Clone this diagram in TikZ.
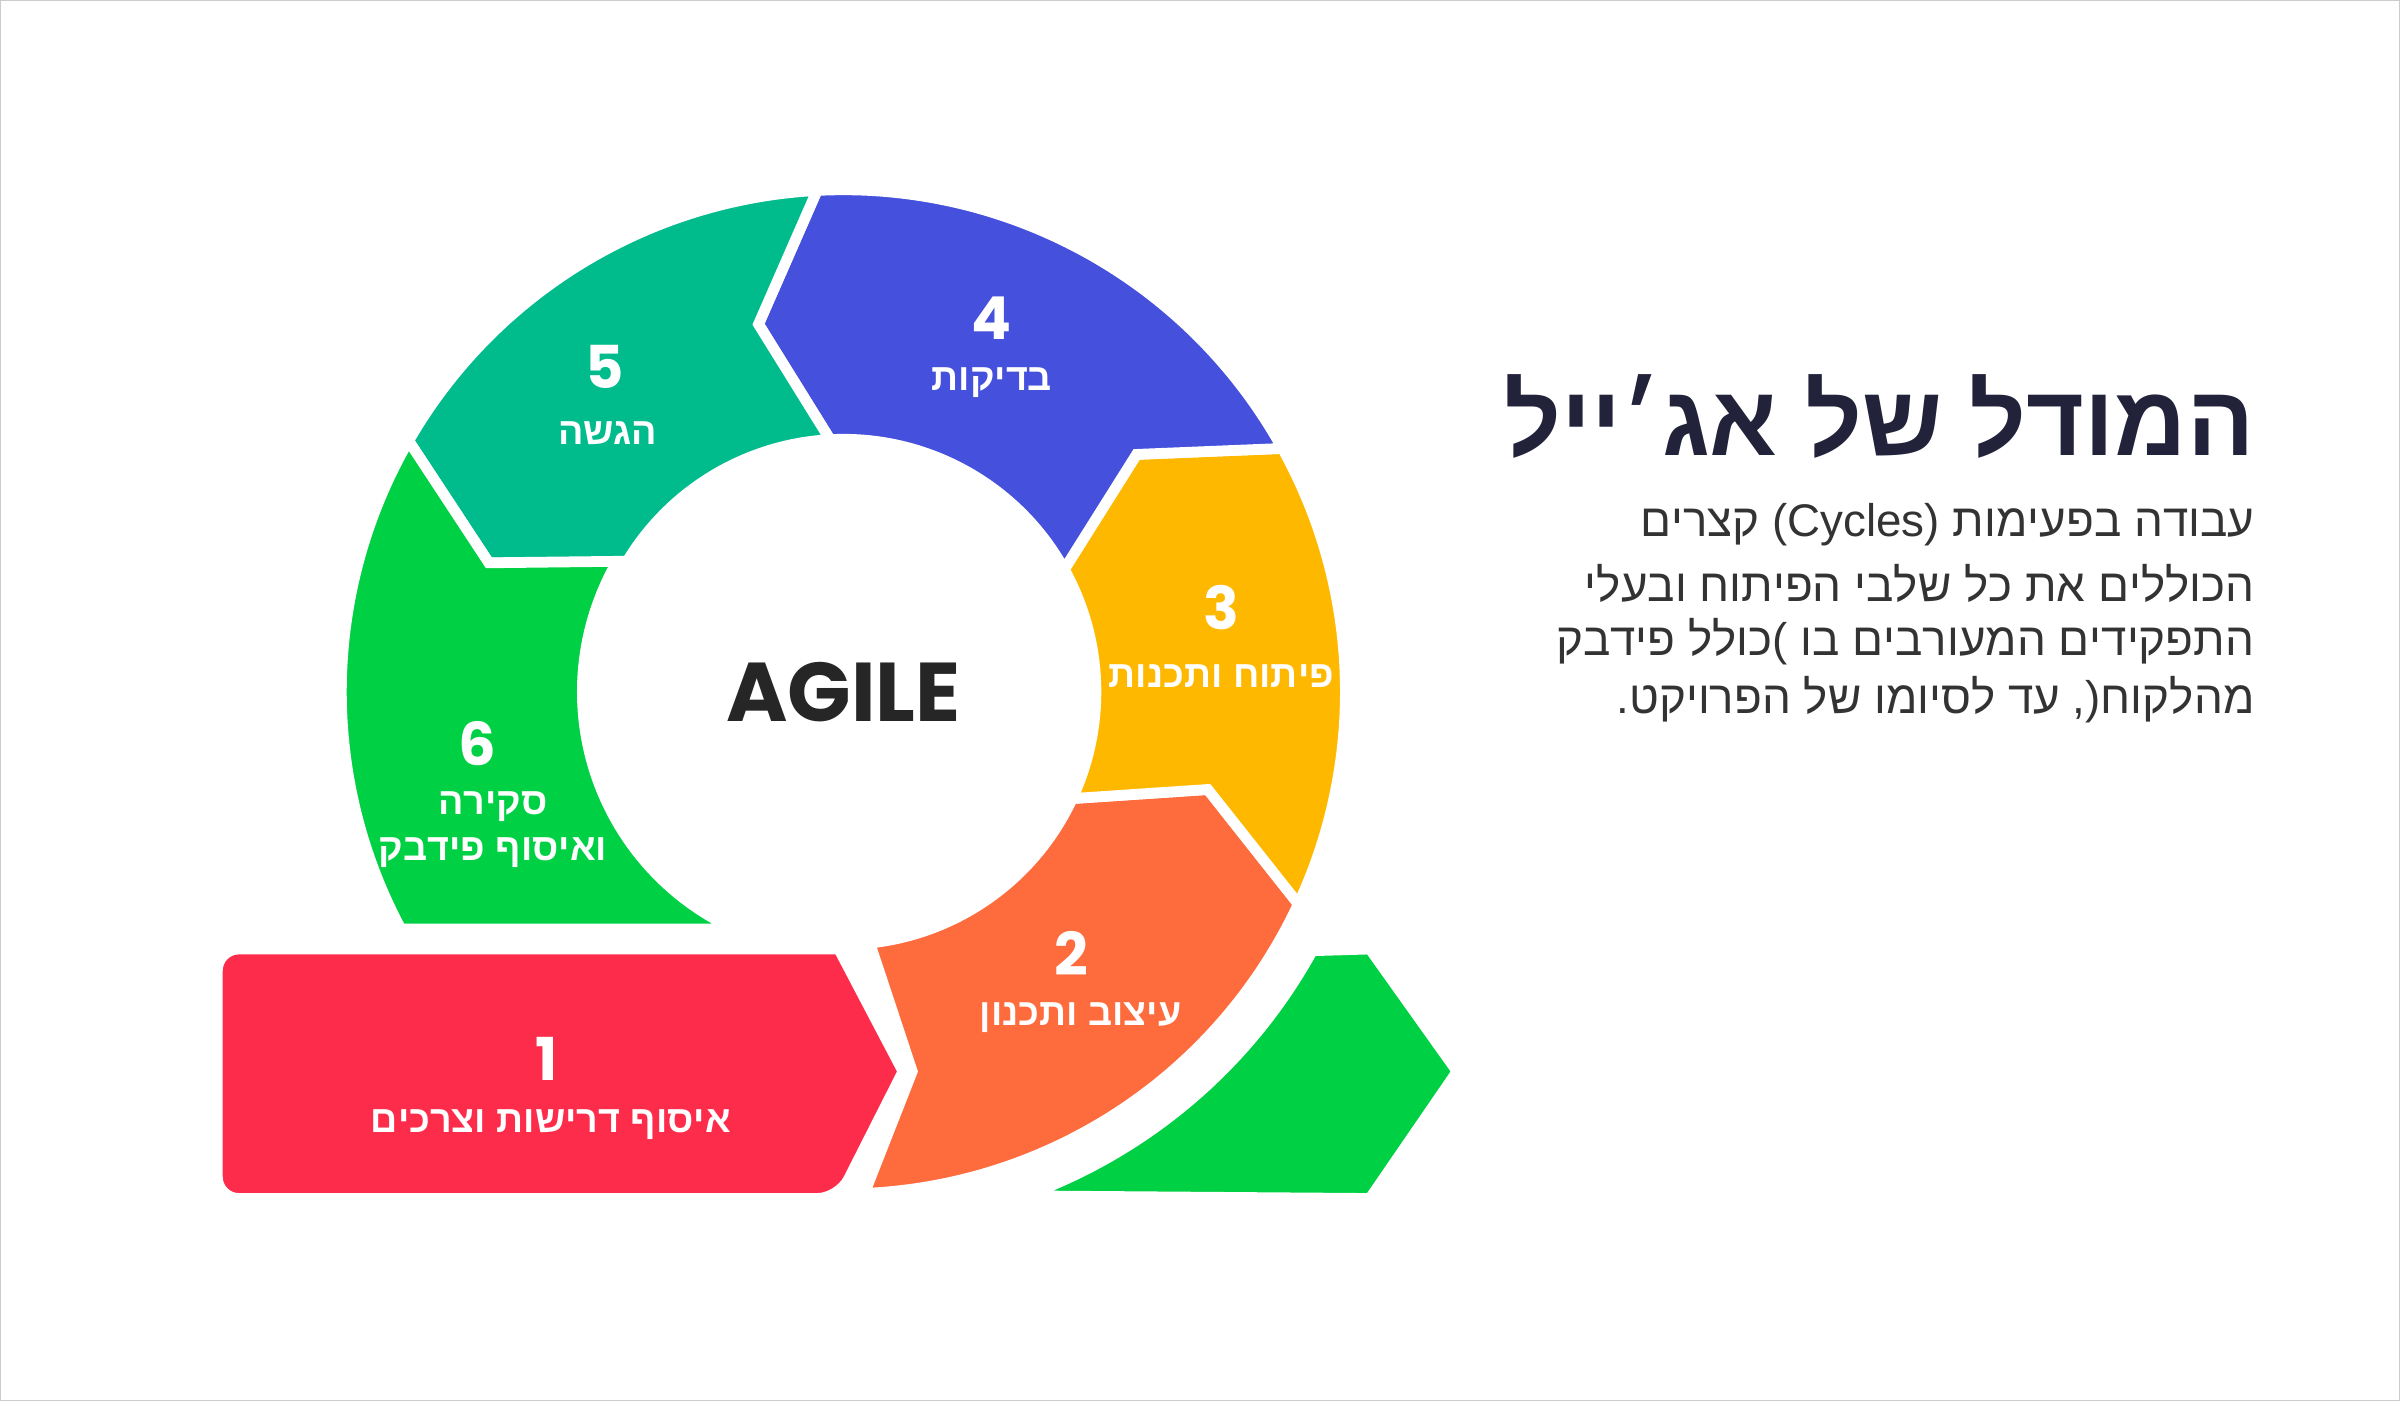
\documentclass[tikz,border=0pt]{standalone}
\usepackage{fontspec}
\setmainfont{Liberation Sans}
\newfontfamily\popfont{Poppins}
\TeXXeTstate=1
\definecolor{cred}{HTML}{FE2C4B}
\definecolor{corange}{HTML}{FE6B3C}
\definecolor{cyellow}{HTML}{FFB800}
\definecolor{cblue}{HTML}{4550DC}
\definecolor{cteal}{HTML}{00BC8D}
\definecolor{cgreen}{HTML}{00D043}
\definecolor{ctitle}{HTML}{22223A}
\definecolor{ctext}{HTML}{333333}
\begin{document}
\begin{tikzpicture}[
  segfill/.style={fill=#1,draw=white,line width=4pt,line join=miter},
  num/.style={text=white,font=\popfont\bfseries\fontsize{22}{24}\selectfont},
  lab/.style={text=white,font=\bfseries\fontsize{14}{17}\selectfont,align=center},
  para/.style={text=ctext,font=\fontsize{17}{21.5}\selectfont,anchor=east}]
\useasboundingbox (-11.02,9.04) rectangle (20.34,-9.26);
\draw[gray!40,line width=0.6pt] (-11.02,9.04) rectangle (20.34,-9.26);
% 1
\path[segfill=cred,rounded corners=8pt] (-0.06,-3.36) -- (-8.18,-3.36) -- (-8.18,-6.62) -- (-0.06,-6.62) [sharp corners] -- (0.78,-4.96) -- cycle;
\node[coordinate] (s1) at (-4,-5) {};
% 2
\path[segfill=corange] (-87.6:6.56) arc[start angle=-87.6,end angle=-25,radius=6.56] -- (-15:4.93) -- (-25:3.3) arc[start angle=-25,end angle=-84,radius=3.3] -- (0.9,-4.96) -- cycle;
% 3
\path[segfill=cyellow] (-25:6.56) arc[start angle=-25,end angle=29,radius=6.56] -- (39:4.93) -- (29:3.3) arc[start angle=29,end angle=-25,radius=3.3] -- (-15:4.93) -- cycle;
% 4
\path[segfill=cblue] (29:6.56) arc[start angle=29,end angle=93,radius=6.56] -- (103:4.93) -- (93:3.3) arc[start angle=93,end angle=29,radius=3.3] -- (39:4.93) -- cycle;
% 5
\path[segfill=cteal] (93:6.56) arc[start angle=93,end angle=150,radius=6.56] -- (160:4.93) -- (150:3.3) arc[start angle=150,end angle=93,radius=3.3] -- (103:4.93) -- cycle;
% 6
\path[segfill=cgreen] (150:6.56) arc[start angle=150,end angle=208.2,radius=6.56] -- (-1.42,-3.1) arc[start angle=245.4,end angle=150,radius=3.41] -- (160:4.93) -- cycle;
% extra green arrow
\path[segfill=cgreen] (-70.2:7.0) arc[start angle=-70.2,end angle=-28.9,radius=7.0] -- (6.88,-3.36) -- (8.02,-4.96) -- (6.88,-6.62) -- cycle;
% labels
\node[num] (n1) at (-3.88,-4.8) {1};
\node[lab] (l1) at (-3.82,-5.66) {\beginR איסוף דרישות וצרכים\endR};
\node[num] (n2) at (2.98,-3.42) {2};
\node[lab] (l2) at (3.1,-4.26) {\beginR עיצוב ותכנון\endR};
\node[num] (n3) at (4.94,1.1) {3};
\node[lab] (l3) at (4.94,0.2) {\beginR פיתוח ותכנות\endR};
\node[num] (n4) at (1.94,4.88) {4};
\node[lab] (l4) at (1.94,4.04) {\beginR בדיקות\endR};
\node[num] (n5) at (-3.12,4.24) {5};
\node[lab] (l5) at (-3.08,3.38) {\beginR הגשה\endR};
\node[num] (n6) at (-4.78,-0.68) {6};
\node[lab] (l6) at (-4.58,-1.8) {\beginR סקירה\endR\\\beginR ואיסוף פידבק\endR};
\node[text=black!85,font=\popfont\bfseries\fontsize{31}{34}\selectfont] (agile) at (0,0) {AGILE};
% title and text
\node[text=ctitle,font=\bfseries\fontsize{37}{40}\selectfont,anchor=east] (title) at (18.56,3.6) {\beginR המודל של אג׳ייל\endR};
\node[para] (p1) at (18.56,2.18) {\beginR עבודה בפעימות )\beginL Cycles\endL( קצרים\endR};
\node[para] (p2) at (18.56,1.42) {\beginR הכוללים את כל שלבי הפיתוח ובעלי\endR};
\node[para] (p3) at (18.56,0.66) {\beginR התפקידים המעורבים בו )כולל פידבק\endR};
\node[para] (p4) at (18.56,-0.1) {\beginR מהלקוח(, עד לסיומו של הפרויקט.\endR};
\end{tikzpicture}
\end{document}
